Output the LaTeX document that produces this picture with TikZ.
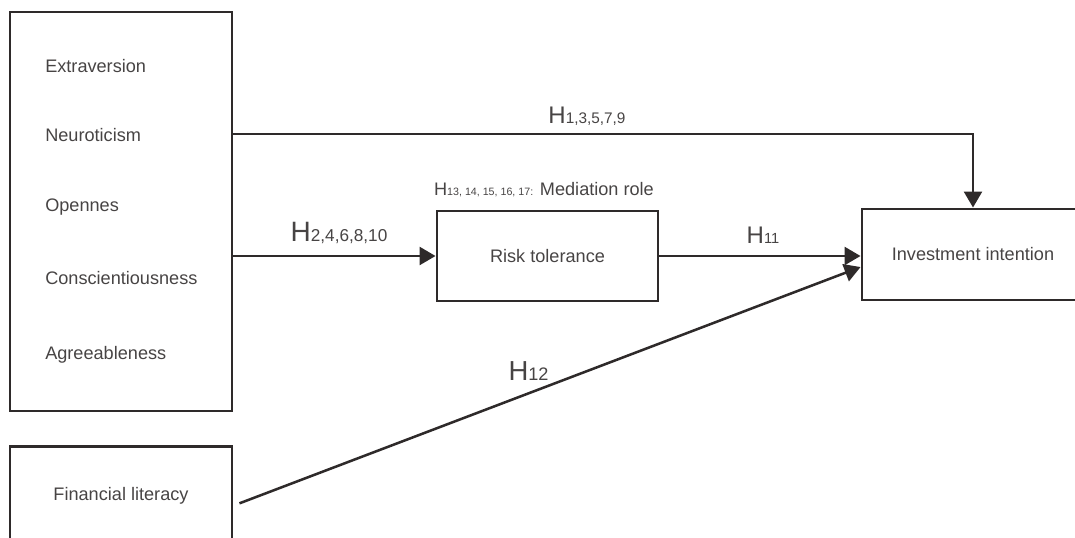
\documentclass[tikz,border=0pt]{standalone}
\usepackage{fontspec}
\setmainfont{Liberation Sans}
\usetikzlibrary{positioning,arrows.meta}
\definecolor{inkline}{HTML}{2E2A2A}
\definecolor{inktext}{HTML}{474444}
\newcommand{\hyplab}[3]{{\fontsize{#1}{#1}\selectfont H}{\fontsize{#2}{#2}\selectfont #3}}

\begin{document}
\begin{tikzpicture}[
  x=0.75pt, y=-0.75pt,
  block/.style={rectangle, draw=inkline, line width=2.2pt, inner sep=0pt, text=inktext, font=\fontsize{13.6}{16}\selectfont},
  trait/.style={anchor=base west, inner sep=0pt, text=inktext, font=\fontsize{13.6}{16}\selectfont},
  hyp/.style={anchor=base, inner sep=0pt, text=inktext},
  link/.style={draw=inkline, line width=1.9pt, -{Triangle[length=12pt,width=13.5pt]}}
]
\useasboundingbox (0,0) rectangle (1075,538);

\node[block, minimum width=166.5pt, minimum height=299.25pt] (traits) at (121,211.5) {};
\node[trait] (extra) at (45,73) {Extraversion};
\node[trait] (neuro) at (45,142) {Neuroticism};
\node[trait] (open) at (45,212) {Opennes};
\node[trait] (consc) at (45,285) {Conscientiousness};
\node[trait] (agree) at (45,360) {Agreeableness};

\node[block, minimum width=166.5pt, minimum height=74pt] (fin) at (121,496) {Financial literacy};
\node[block, minimum width=165.75pt, minimum height=67.5pt] (risk) at (547.5,256) {Risk tolerance};
\node[block, minimum width=166.5pt, minimum height=68.25pt] (invest) at (973,254.5) {Investment intention};

\draw[link] (traits.east |- 0,134) -| (invest.north);
\draw[link] (traits.east |- risk) -- (risk.west);
\draw[link] (risk.east) -- (risk.east -| invest.west);
\draw[link] ([xshift=4.5pt,yshift=-5.5pt]fin.east) -- ([yshift=-9.4pt]invest.west);

\node[hyp] (h1) at (587,124) {\hyplab{18}{11.5}{1,3,5,7,9}};
\node[hyp] (h2) at (339,242) {\hyplab{21}{12.9}{2,4,6,8,10}};
\node[hyp] (h11) at (763,244) {\hyplab{18}{11}{11}};
\node[hyp] (h12) at (528.5,381) {\hyplab{20.6}{13.6}{12}};
\node[hyp] (med) at (544,196) {\hyplab{13.6}{8}{13, 14, 15, 16, 17:}\fontsize{13.6}{16}\selectfont{} Mediation role};
\end{tikzpicture}
\end{document}
